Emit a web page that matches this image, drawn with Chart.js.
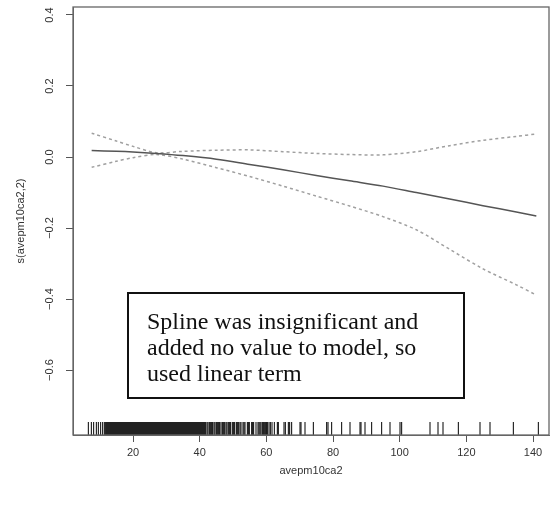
<!DOCTYPE html>
<html>
<head>
<meta charset="utf-8">
<script src="https://cdn.jsdelivr.net/npm/chart.js@4.4.1/dist/chart.umd.min.js"></script>
<style>
html,body{margin:0;padding:0;background:#fff;}
canvas{display:block;}
</style>
</head>
<body>
<canvas id="c" width="550" height="508"></canvas>
<script>
// ---- data ----
const xVals   = [7.6, 15, 20, 27, 35, 45, 55, 65, 75, 85, 95, 105, 115, 125, 135, 141];
const fitVals = [0.018, 0.016, 0.014, 0.010, 0.004, -0.006, -0.021, -0.036, -0.052, -0.067, -0.082, -0.100, -0.118, -0.137, -0.155, -0.166];
const upperVals = [0.067, 0.045, 0.030, 0.012, 0.016, 0.019, 0.020, 0.015, 0.010, 0.007, 0.006, 0.015, 0.032, 0.047, 0.058, 0.065];
const lowerVals = [-0.029, -0.012, -0.002, 0.007, -0.006, -0.030, -0.055, -0.082, -0.110, -0.138, -0.168, -0.205, -0.260, -0.315, -0.360, -0.389];

const rugVals = [
  6.6, 7.5, 8.2, 9.0, 9.6, 10.3, 10.9, 11.4,
  11.8, 12.1, 12.4, 12.7, 13.0, 13.3, 13.6, 13.9, 14.2, 14.5, 14.8, 15.1, 15.4, 15.7, 16.0, 16.3,
  16.6, 16.9, 17.2, 17.5, 17.8, 18.1, 18.4, 18.7, 19.0, 19.3, 19.6, 19.9, 20.2, 20.5, 20.8, 21.1,
  21.4, 21.7, 22.0, 22.3, 22.6, 22.9, 23.2, 23.5, 23.8, 24.1, 24.4, 24.7, 25.0, 25.3, 25.6, 25.9,
  26.2, 26.5, 26.8, 27.1, 27.4, 27.7, 28.0, 28.3, 28.6, 28.9, 29.2, 29.5, 29.8, 30.1, 30.4, 30.7,
  31.0, 31.3, 31.6, 31.9, 32.2, 32.5, 32.8, 33.1, 33.4, 33.7, 34.0, 34.3, 34.6, 34.9, 35.2, 35.5,
  35.8, 36.1, 36.4, 36.7, 37.0, 37.3, 37.6, 37.9, 38.2, 38.5, 38.8, 39.1, 39.4, 39.7, 40.0, 40.3,
  40.6, 40.9, 41.2, 41.5, 41.8, 42.2, 42.5, 42.9, 43.2, 43.6, 43.9, 44.3, 44.6, 45.0, 45.3, 45.7,
  46.0, 46.4, 46.8, 47.1, 47.5, 47.9, 48.2, 48.6, 49.0, 49.3, 49.8, 50.2, 50.5, 51.0, 51.3, 51.7,
  52.1, 52.4, 53.0, 53.3, 53.6, 54.3, 54.6, 54.9, 55.6, 55.9, 56.2, 56.9, 57.5, 57.8, 58.1, 58.4,
  58.8, 59.1, 59.4, 59.8, 60.1, 60.3, 60.8, 61.2, 61.7, 62.4, 63.3,
  63.6, 65.3, 65.7, 66.6, 67.0, 67.6, 70.1, 70.4, 71.6, 74.1, 78.1, 78.5, 79.6, 82.6, 85.1, 88.1,
  88.4, 89.6, 91.6, 94.6, 97.1, 100.1, 100.6, 109.1, 111.5, 113.0, 117.6, 124.1, 127.1, 134.1, 141.6
];

const xTicks = [20, 40, 60, 80, 100, 120, 140];
const yTicks = [-0.6, -0.4, -0.2, 0.0, 0.2, 0.4];
const yTickLabels = ["\u22120.6", "\u22120.4", "\u22120.2", "0.0", "0.2", "0.4"];
const xTitle = "avepm10ca2";
const yTitle = "s(avepm10ca2,2)";
const noteLines = ["Spline was insignificant and", "added no value to model, so", "used linear term"];

// ---- build chart ----
const pts = ys => xVals.map((x, i) => ({x: x, y: ys[i]}));

const boxAndRug = {
  id: 'boxAndRug',
  afterDatasetsDraw(chart) {
    const {ctx, chartArea: a, scales: {x}} = chart;
    ctx.save();
    // rug
    ctx.strokeStyle = '#000';
    ctx.lineWidth = 1;
    rugVals.forEach(v => {
      const px = x.getPixelForValue(v);
      ctx.beginPath();
      ctx.moveTo(px, a.bottom);
      ctx.lineTo(px, a.bottom - 13);
      ctx.stroke();
    });
    // box
    ctx.strokeStyle = '#666';
    ctx.lineWidth = 1.3;
    ctx.strokeRect(a.left, a.top, a.right - a.left, a.bottom - a.top);
    // note box
    const bx = a.left + 55, by = a.top + 286, bw = 336, bh = 105;
    ctx.fillStyle = '#fff';
    ctx.fillRect(bx, by, bw, bh);
    ctx.strokeStyle = '#111';
    ctx.lineWidth = 2;
    ctx.strokeRect(bx, by, bw, bh);
    ctx.fillStyle = '#111';
    ctx.font = '24px "Liberation Serif", "Times New Roman", serif';
    ctx.textBaseline = 'alphabetic';
    ctx.textAlign = 'left';
    noteLines.forEach((t, i) => ctx.fillText(t, bx + 19, by + 36 + i * 26));
    ctx.restore();
  }
};

const axisFont = {family: '"Liberation Sans", Arial, sans-serif', size: 11};
const noPad = s => { s.paddingTop = 0; s.paddingBottom = 0; s.paddingLeft = 0; s.paddingRight = 0; };

new Chart(document.getElementById('c'), {
  type: 'line',
  data: {
    datasets: [
      {data: pts(fitVals), borderColor: '#555', borderWidth: 1.5, pointRadius: 0, fill: false, tension: 0.3},
      {data: pts(upperVals), borderColor: '#a0a0a0', borderWidth: 1.5, borderDash: [3, 3], pointRadius: 0, fill: false, tension: 0.3},
      {data: pts(lowerVals), borderColor: '#a0a0a0', borderWidth: 1.5, borderDash: [3, 3], pointRadius: 0, fill: false, tension: 0.3}
    ]
  },
  options: {
    responsive: false,
    animation: false,
    layout: {padding: {top: 7, right: 1, left: 0, bottom: 0}},
    plugins: {legend: {display: false}, tooltip: {enabled: false}},
    scales: {
      x: {
        type: 'linear',
        min: 2, max: 144.8,
        afterFit: s => { s.height = 73; noPad(s); },
        afterBuildTicks: s => { s.ticks = xTicks.map(v => ({value: v})); },
        grid: {drawOnChartArea: false, drawTicks: true, tickLength: 7, color: '#555'},
        border: {display: true, color: '#666'},
        ticks: {font: axisFont, color: '#333', padding: 4, maxRotation: 0, autoSkip: false},
        title: {display: true, text: xTitle, font: axisFont, color: '#333', padding: {top: 0, bottom: 30}}
      },
      y: {
        type: 'linear',
        min: -0.783, max: 0.4225,
        afterFit: s => { s.width = 73; noPad(s); },
        afterBuildTicks: s => { s.ticks = yTicks.map(v => ({value: v})); },
        grid: {drawOnChartArea: false, drawTicks: true, tickLength: 7, color: '#555'},
        border: {display: true, color: '#666'},
        ticks: {
          font: axisFont, color: '#333', padding: 5, minRotation: 90, maxRotation: 90,
          crossAlign: 'center', autoSkip: false,
          callback: (v) => { const i = yTicks.findIndex(t => Math.abs(t - v) < 1e-9); return i >= 0 ? yTickLabels[i] : ''; }
        },
        title: {display: true, text: yTitle, font: axisFont, color: '#333', padding: {top: 14, bottom: 0}}
      }
    }
  },
  plugins: [boxAndRug]
});
</script>
</body>
</html>
